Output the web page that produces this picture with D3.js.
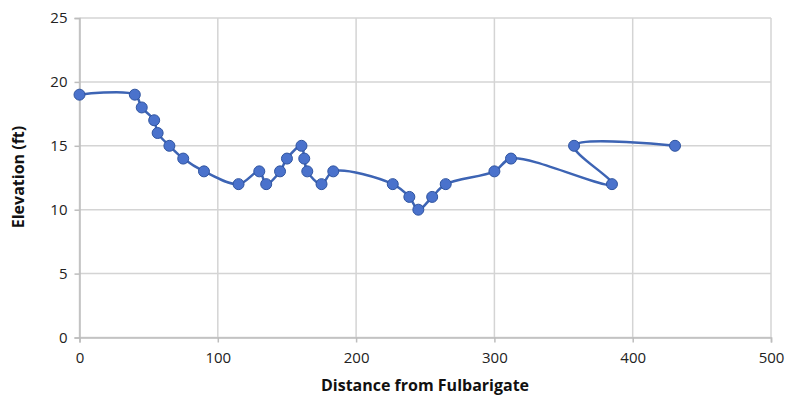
<!DOCTYPE html>
<html>
<head>
<meta charset="utf-8">
<script src="https://cdn.jsdelivr.net/npm/d3@7"></script>
<style>
  body { margin: 0; background: #fff; }
  svg { display: block; font-family: "Open Sans", "DejaVu Sans", sans-serif; }
</style>
</head>
<body>
<svg width="789" height="400"></svg>
<script>
// distance (x) and elevation (y)
var distance = [0, 40, 45, 54, 56.5, 65, 75, 90, 115, 130, 135, 145, 150, 160.5, 162.5, 164.7, 175, 183.5, 226.5, 238.5, 245, 255, 264.8, 300, 312, 385, 357.6, 430.6];
var elevation = [19, 19, 18, 17, 16, 15, 14, 13, 12, 13, 12, 13, 14, 15, 14, 13, 12, 13, 12, 11, 10, 11, 12, 13, 14, 12, 15, 15];
var xTicks = [0, 100, 200, 300, 400, 500];
var yTicks = [0, 5, 10, 15, 20, 25];

var points = distance.map(function(d, i) {
    return [d, elevation[i]];
});

var svg = d3.select("svg");

var xScale = d3.scaleLinear()
    .domain([0, 500])
    .range([79.5, 771]);

var yScale = d3.scaleLinear()
    .domain([0, 25])
    .range([337.5, 18]);

// gridlines
svg.append("g")
    .selectAll("line.v")
    .data(xTicks)
    .enter()
    .append("line")
    .attr("x1", function(d) { return xScale(d); })
    .attr("x2", function(d) { return xScale(d); })
    .attr("y1", yScale(0))
    .attr("y2", yScale(25))
    .attr("stroke", "#d4d4d4")
    .attr("stroke-width", 1.5);

svg.append("g")
    .selectAll("line.h")
    .data(yTicks)
    .enter()
    .append("line")
    .attr("x1", xScale(0))
    .attr("x2", xScale(500))
    .attr("y1", function(d) { return yScale(d); })
    .attr("y2", function(d) { return yScale(d); })
    .attr("stroke", "#d4d4d4")
    .attr("stroke-width", 1.5);

var xAxis = d3.axisBottom(xScale)
    .tickValues(xTicks)
    .tickSize(5)
    .tickPadding(10);

var yAxis = d3.axisLeft(yScale)
    .tickValues(yTicks)
    .tickSize(5)
    .tickPadding(7);

var gx = svg.append("g")
    .attr("transform", "translate(0," + yScale(0) + ")")
    .call(xAxis);

var gy = svg.append("g")
    .attr("transform", "translate(" + xScale(0) + ",0)")
    .call(yAxis);

[gx, gy].forEach(function(g) {
    g.select(".domain").attr("stroke", "#bdbdbd").attr("stroke-width", 1.5);
    g.selectAll(".tick line").attr("stroke", "#bdbdbd").attr("stroke-width", 1.5);
    g.selectAll(".tick text")
        .attr("fill", "#222")
        .style("font-size", "15px")
        .style("font-family", "'Open Sans', sans-serif");
});

var line = d3.line()
    .x(function(p) { return xScale(p[0]); })
    .y(function(p) { return yScale(p[1]); })
    .curve(d3.curveCatmullRom);

svg.append("path")
    .datum(points)
    .attr("d", line)
    .attr("fill", "none")
    .attr("stroke", "#3d64b4")
    .attr("stroke-width", 2.5);

svg.append("g")
    .selectAll("circle")
    .data(points)
    .enter()
    .append("circle")
    .attr("cx", function(p) { return xScale(p[0]); })
    .attr("cy", function(p) { return yScale(p[1]); })
    .attr("r", 5.5)
    .attr("fill", "#4a72cc")
    .attr("stroke", "#2f54a0")
    .attr("stroke-width", 1);

svg.append("text")
    .attr("x", 425)
    .attr("y", 391)
    .attr("text-anchor", "middle")
    .style("font-size", "16px")
    .style("font-weight", "bold")
    .attr("fill", "#111")
    .text("Distance from Fulbarigate");

svg.append("text")
    .attr("transform", "translate(24,177) rotate(-90)")
    .attr("text-anchor", "middle")
    .style("font-size", "16px")
    .style("font-weight", "bold")
    .attr("fill", "#111")
    .text("Elevation (ft)");
</script>
</body>
</html>
